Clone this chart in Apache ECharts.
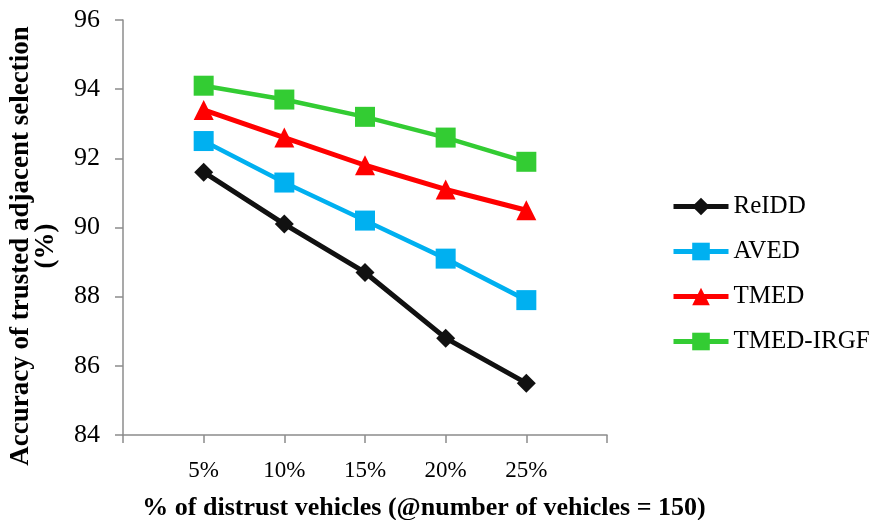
<!DOCTYPE html>
<html>
<head>
<meta charset="utf-8">
<script src="https://cdn.jsdelivr.net/npm/echarts@6/dist/echarts.min.js"></script>
<style>html,body{margin:0;padding:0;background:#fff;}#c{width:877px;height:520px;}</style>
</head>
<body>
<div id="c"></div>
<script>
var categories = ['', '5%', '10%', '15%', '20%', '25%', ''];
var reidd = [null, 91.6, 90.1, 88.7, 86.8, 85.5, null];
var aved = [null, 92.5, 91.3, 90.2, 89.1, 87.9, null];
var tmed = [null, 93.4, 92.6, 91.8, 91.1, 90.5, null];
var tmedIrgf = [null, 94.1, 93.7, 93.2, 92.6, 91.9, null];
var yMin = 84, yMax = 96, yStep = 2;

var serif = '"Liberation Serif", "Times New Roman", serif';
var chart = echarts.init(document.getElementById('c'));
chart.setOption({
  animation: false,
  backgroundColor: '#fff',
  grid: {left: 123, right: 270, top: 20, bottom: 85, containLabel: false},
  xAxis: {
    type: 'category', data: categories, boundaryGap: false,
    axisLine: {lineStyle: {color: '#8c8c8c', width: 1.5}},
    axisTick: {show: true, interval: 0, length: 8, lineStyle: {color: '#8c8c8c', width: 1.5}},
    axisLabel: {interval: 0, margin: 24, fontFamily: serif, fontSize: 23, color: '#000'},
    splitLine: {show: false}
  },
  yAxis: {
    type: 'value', min: yMin, max: yMax, interval: yStep,
    axisLine: {show: true, lineStyle: {color: '#8c8c8c', width: 1.5}},
    axisTick: {show: true, length: 8, lineStyle: {color: '#8c8c8c', width: 1.5}},
    axisLabel: {margin: 23, fontFamily: serif, fontSize: 26, color: '#000'},
    splitLine: {show: false}
  },
  legend: {
    orient: 'vertical', left: 671, top: 194, padding: 0,
    itemWidth: 55, itemHeight: 22, itemGap: 20,
    lineStyle: {width: 5},
    textStyle: {fontFamily: serif, fontSize: 25, color: '#000', lineHeight: 25},
    data: ['ReIDD', 'AVED', 'TMED', 'TMED-IRGF']
  },
  series: [
    {name: 'ReIDD', type: 'line', data: reidd, symbol: 'diamond', symbolSize: 19,
     lineStyle: {color: '#111', width: 5}, itemStyle: {color: '#111'}},
    {name: 'AVED', type: 'line', data: aved, symbol: 'rect', symbolSize: 20,
     lineStyle: {color: '#00b0f0', width: 4.5}, itemStyle: {color: '#00b0f0'}},
    {name: 'TMED', type: 'line', data: tmed, symbol: 'triangle', symbolSize: 20,
     lineStyle: {color: '#ff0000', width: 5}, itemStyle: {color: '#ff0000'}},
    {name: 'TMED-IRGF', type: 'line', data: tmedIrgf, symbol: 'rect', symbolSize: 20,
     lineStyle: {color: '#33cc33', width: 4.5}, itemStyle: {color: '#33cc33'}}
  ],
  graphic: [
    {type: 'text', x: 424, y: 508,
     style: {text: '% of distrust vehicles (@number of vehicles = 150)', fontFamily: serif, fontWeight: 'bold', fontSize: 26, fill: '#000', align: 'center', verticalAlign: 'middle'}},
    {type: 'text', x: 34, y: 246, rotation: Math.PI / 2,
     style: {text: 'Accuracy of trusted adjacent selection\n(%)', fontFamily: serif, fontWeight: 'bold', fontSize: 27, lineHeight: 25, fill: '#000', align: 'center', verticalAlign: 'middle'}}
  ]
});
</script>
</body>
</html>
